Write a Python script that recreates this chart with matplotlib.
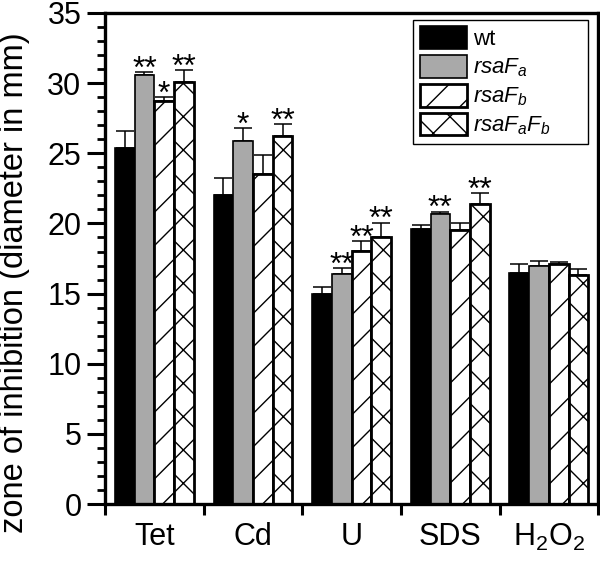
"""
Zone of inhibition bar chart.
"""

import numpy as np
import matplotlib
matplotlib.use('Agg')
import matplotlib.pyplot as plt
from matplotlib.ticker import MultipleLocator

plt.rcParams['font.family'] = ['Liberation Sans', 'DejaVu Sans']
plt.rcParams['mathtext.fontset'] = 'custom'
plt.rcParams['mathtext.rm'] = 'Liberation Sans'
plt.rcParams['mathtext.it'] = 'Liberation Sans:italic'
plt.rcParams['hatch.linewidth'] = 1.0

# data
groups = ['Tet', 'Cd', 'U', 'SDS', r'H$_2$O$_2$']
labels = ['wt', r'$rsaF_a$', r'$rsaF_b$', r'$rsaF_aF_b$']

wt = [25.35, 22.0, 14.95, 19.6, 16.5]
rsaFa = [30.6, 25.9, 16.4, 20.65, 16.95]
rsaFb = [28.75, 23.5, 18.05, 19.5, 17.1]
rsaFaFb = [30.05, 26.25, 19.0, 21.35, 16.35]

wt_err = [1.25, 1.25, 0.5, 0.3, 0.6]
rsaFa_err = [0.2, 0.9, 0.4, 0.2, 0.4]
rsaFb_err = [0.25, 1.35, 0.7, 0.5, 0.15]
rsaFaFb_err = [0.85, 0.8, 1.05, 0.8, 0.4]

# significance marks per series, per group
wt_sig = ['', '', '', '', '']
rsaFa_sig = ['**', '*', '**', '**', '']
rsaFb_sig = ['*', '', '**', '', '']
rsaFaFb_sig = ['**', '**', '**', '**', '']

series = [wt, rsaFa, rsaFb, rsaFaFb]
errs = [wt_err, rsaFa_err, rsaFb_err, rsaFaFb_err]
sigs = [wt_sig, rsaFa_sig, rsaFb_sig, rsaFaFb_sig]
colors = ['black', '#a9a9a9', 'white', 'white']
hatches = [None, None, '/', 'x']

fig = plt.figure(figsize=(6.0, 5.62), dpi=100)
ax = fig.add_axes([0.175, 0.103, 0.822, 0.874])

x = np.arange(len(groups)) + 0.5
w = 0.2
offsets = [-0.3, -0.1, 0.1, 0.3]

for i in range(4):
    xs = x + offsets[i]
    ax.bar(xs, series[i], w, color=colors[i], edgecolor='black',
           linewidth=2.0 if hatches[i] else 1.2, hatch=hatches[i],
           label=labels[i], zorder=2)
    ax.errorbar(xs, series[i], yerr=[np.zeros(5), errs[i]], fmt='none',
                ecolor='black', elinewidth=1.1, capsize=6.5, capthick=1.1,
                zorder=1)
    for j in range(5):
        if sigs[i][j]:
            ax.text(xs[j], series[i][j] + errs[i][j] - 0.4, sigs[i][j],
                    ha='center', va='baseline', fontsize=23)

ax.set_xlim(0, 5)
ax.set_ylim(0, 35)
ax.yaxis.set_major_locator(MultipleLocator(5))
ax.yaxis.set_minor_locator(MultipleLocator(1))
ax.set_xticks(np.arange(0, 6))
ax.set_xticklabels([])
ax.set_xticks(x, minor=True)
ax.set_xticklabels(groups, minor=True)

ax.tick_params(axis='y', which='major', direction='out', length=13, width=2.2,
               labelsize=22, pad=4)
ax.tick_params(axis='y', which='minor', direction='out', length=6, width=2.0)
ax.tick_params(axis='x', which='major', direction='out', length=8, width=2.2)
ax.tick_params(axis='x', which='minor', length=0, labelsize=22, pad=13)

for s in ax.spines.values():
    s.set_linewidth(2.4)

ax.set_ylabel('zone of inhibition (diameter in mm)', fontsize=23.5)
ax.yaxis.set_label_coords(-0.152, 0.45)

leg = ax.legend(loc='upper left', bbox_to_anchor=(0.625, 0.0, 0.355, 0.986),
                mode='expand', borderaxespad=0, fontsize=16,
                fancybox=False, edgecolor='black', framealpha=1,
                handlelength=2.1, handleheight=1.2, labelspacing=0.2,
                handletextpad=0.3, borderpad=0.3)
leg.get_frame().set_linewidth(1.0)

fig.savefig('out.png', dpi=100)
